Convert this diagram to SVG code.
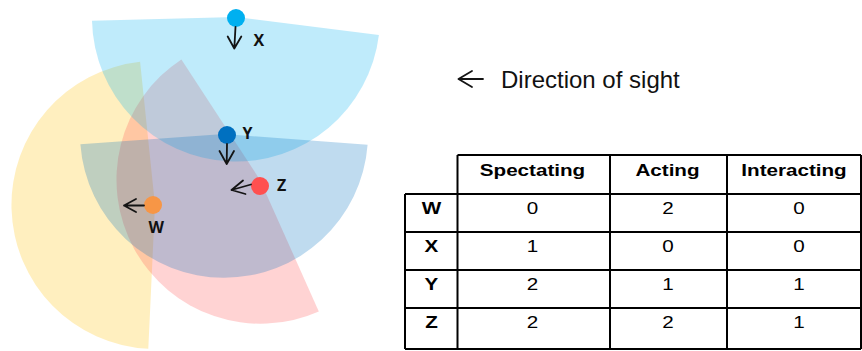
<svg xmlns="http://www.w3.org/2000/svg" width="862" height="351" viewBox="0 0 862 351">
  <style>
    .field { stroke: none; }
    .dot { stroke: none; }
    .sight { fill: none; stroke: #141414; stroke-width: 1.8; stroke-linecap: round; stroke-linejoin: round; }
    .tag { font-family: "Open Sans", "DejaVu Sans", sans-serif; font-weight: bold; font-size: 16px; fill: #111; }
    .legend { font-family: "Liberation Sans", Arial, sans-serif; font-size: 24px; fill: #111; }
    .grid { stroke: #000; stroke-width: 2; fill: none; }
    .cell { font-family: "Liberation Sans", Arial, sans-serif; font-size: 16.5px; fill: #000; text-anchor: middle;
            transform-box: fill-box; transform-origin: center; transform: scaleX(1.25); }
    .head { font-weight: bold; }
  </style>

  <!-- fields of view, ~171 degree wedges of radius 144 -->
  <g id="fields">
    <path id="field-w" class="field" fill="#ffc000" fill-opacity="0.25" d="M155,205 L140.1,61.8 A144,144 0 0,0 148.3,348.8 Z"/>
    <path id="field-z" class="field" fill="#ff5050" fill-opacity="0.25" d="M260,180 L181.4,59.4 A144,144 0 0,0 318.8,311.4 Z"/>
    <path id="field-x" class="field" fill="#00b0f0" fill-opacity="0.25" d="M236,17 L92,20.8 A144,144 0 0,0 378.9,35 Z"/>
    <path id="field-y" class="field" fill="#0070c0" fill-opacity="0.25" d="M224,134 L80.4,144.3 A144,144 0 0,0 367.6,144.8 Z"/>
  </g>

  <!-- viewers: position, line of sight and name -->
  <g id="viewer-x">
    <circle class="dot" cx="236" cy="18" r="9" fill="#00b0f0"/>
    <path class="sight" d="M235.5,27 L234.3,48.5 M227.7,36.5 L234.3,48.5 L241.3,36.5"/>
    <text class="tag" x="253.5" y="46">X</text>
  </g>
  <g id="viewer-y">
    <circle class="dot" cx="227" cy="135" r="9" fill="#0070c0"/>
    <path class="sight" d="M227,144 L226.7,164 M219.5,151 L226.7,164 L234,151"/>
    <text class="tag" x="242.5" y="138.5">Y</text>
  </g>
  <g id="viewer-z">
    <circle class="dot" cx="260" cy="186" r="9" fill="#ff5050"/>
    <path class="sight" d="M251,184.5 L231.5,190 M243,180.5 L231.5,190 L245.5,194"/>
    <text class="tag" x="277" y="190.5">Z</text>
  </g>
  <g id="viewer-w">
    <circle class="dot" cx="153" cy="205" r="9" fill="#f79646"/>
    <path class="sight" d="M144,205.5 L124,205.5 M136,199 L124,205.5 L136,212"/>
    <text class="tag" x="148.5" y="232.5">W</text>
  </g>

  <!-- key -->
  <g id="key">
    <path class="sight" stroke-width="2" d="M483,79 L458.5,79 M472,71 L458.5,79 L472,87"/>
    <text class="legend" x="501" y="88">Direction of sight</text>
  </g>

  <!-- counts table -->
  <g id="table">
    <path class="grid" d="M457.5,155 H861 M405,194 H861 M405,232 H861 M405,270 H861 M405,308 H861 M405,349 H861
                          M405,194 V349 M457.5,155 V349 M610,155 V349 M727,155 V349 M861,155 V349"/>
    <text class="cell head" x="532.5" y="176">Spectating</text>
    <text class="cell head" x="667.5" y="176">Acting</text>
    <text class="cell head" x="794" y="176">Interacting</text>

    <text class="cell head" x="431.5" y="214">W</text>
    <text class="cell" x="532.5" y="214">0</text>
    <text class="cell" x="668" y="214">2</text>
    <text class="cell" x="799" y="214">0</text>

    <text class="cell head" x="431.5" y="252">X</text>
    <text class="cell" x="532.5" y="252">1</text>
    <text class="cell" x="668" y="252">0</text>
    <text class="cell" x="799" y="252">0</text>

    <text class="cell head" x="431.5" y="290">Y</text>
    <text class="cell" x="532.5" y="290">2</text>
    <text class="cell" x="668" y="290">1</text>
    <text class="cell" x="799" y="290">1</text>

    <text class="cell head" x="431.5" y="328">Z</text>
    <text class="cell" x="532.5" y="328">2</text>
    <text class="cell" x="668" y="328">2</text>
    <text class="cell" x="799" y="328">1</text>
  </g>
</svg>
